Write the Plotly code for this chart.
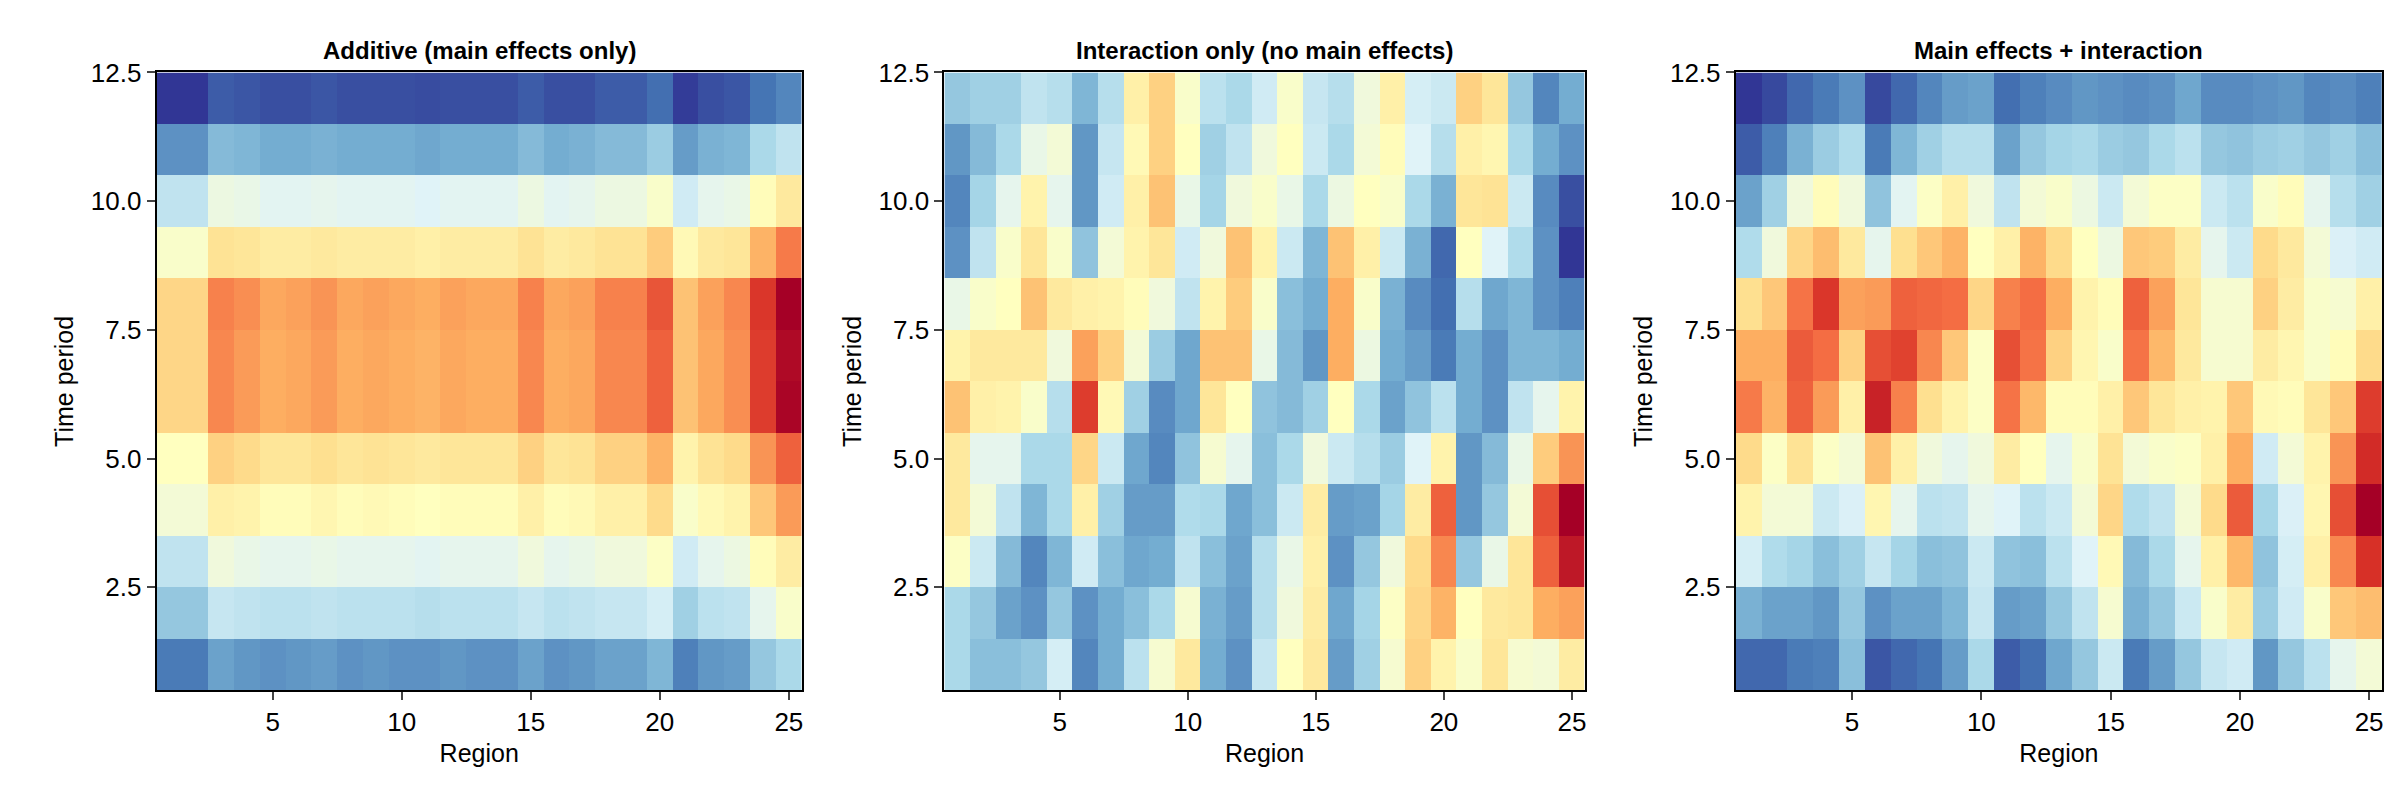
"""Three heatmaps: additive, interaction-only, and combined region x time effects"""
import plotly.graph_objects as go

regions = list(range(1, 26))
periods = list(range(1, 13))

# rows listed from top (period 12) down to period 1
additive_rows = [
    [0.0, 0.0, 0.6, 0.5, 0.4, 0.4, 0.5, 0.4, 0.4, 0.4, 0.35, 0.4, 0.4, 0.4, 0.6, 0.4, 0.4, 0.6, 0.6, 0.9, 0.1, 0.4, 0.5, 1.0, 1.3],
    [1.5, 1.5, 2.3, 2.2, 2.0, 2.0, 2.1, 2.0, 2.0, 2.0, 1.9, 2.0, 2.0, 2.0, 2.3, 2.0, 2.1, 2.3, 2.3, 2.7, 1.7, 2.1, 2.2, 3.0, 3.4],
    [3.4, 3.4, 4.4, 4.3, 4.1, 4.1, 4.2, 4.1, 4.1, 4.1, 4.0, 4.1, 4.1, 4.1, 4.4, 4.1, 4.2, 4.4, 4.4, 4.8, 3.7, 4.2, 4.3, 5.1, 5.7],
    [4.8, 4.8, 5.9, 5.8, 5.6, 5.6, 5.7, 5.6, 5.6, 5.6, 5.5, 5.6, 5.6, 5.6, 5.9, 5.6, 5.7, 5.9, 5.9, 6.4, 5.2, 5.7, 5.8, 6.9, 7.8],
    [6.2, 6.2, 7.7, 7.5, 7.1, 7.2, 7.4, 7.1, 7.2, 7.1, 7.0, 7.2, 7.1, 7.1, 7.7, 7.1, 7.2, 7.7, 7.7, 8.4, 6.6, 7.2, 7.6, 8.9, 10.0],
    [6.2, 6.2, 7.6, 7.3, 7.0, 7.1, 7.3, 7.0, 7.1, 7.0, 6.9, 7.1, 7.0, 7.0, 7.6, 7.0, 7.1, 7.6, 7.6, 8.2, 6.6, 7.1, 7.5, 8.8, 9.8],
    [6.2, 6.2, 7.6, 7.3, 7.0, 7.1, 7.3, 7.0, 7.1, 7.0, 6.9, 7.1, 7.0, 7.0, 7.6, 7.0, 7.1, 7.6, 7.6, 8.2, 6.6, 7.1, 7.5, 8.8, 9.9],
    [5.0, 5.0, 6.3, 6.1, 5.8, 5.8, 6.0, 5.8, 5.9, 5.8, 5.7, 5.8, 5.8, 5.8, 6.3, 5.8, 5.9, 6.3, 6.3, 6.9, 5.4, 5.9, 6.1, 7.4, 8.2],
    [4.6, 4.6, 5.5, 5.4, 5.1, 5.1, 5.3, 5.1, 5.2, 5.1, 5.0, 5.1, 5.1, 5.1, 5.5, 5.1, 5.2, 5.5, 5.5, 6.1, 4.8, 5.2, 5.4, 6.5, 7.3],
    [3.4, 3.4, 4.5, 4.3, 4.2, 4.2, 4.3, 4.2, 4.2, 4.2, 4.1, 4.2, 4.2, 4.2, 4.5, 4.2, 4.3, 4.5, 4.5, 4.9, 3.7, 4.2, 4.4, 5.1, 5.6],
    [2.6, 2.6, 3.5, 3.4, 3.3, 3.3, 3.4, 3.3, 3.3, 3.3, 3.2, 3.3, 3.3, 3.3, 3.5, 3.3, 3.4, 3.5, 3.5, 3.8, 2.8, 3.3, 3.4, 4.2, 4.8],
    [1.1, 1.1, 1.8, 1.6, 1.5, 1.6, 1.7, 1.5, 1.6, 1.5, 1.5, 1.6, 1.5, 1.5, 1.8, 1.5, 1.6, 1.8, 1.8, 2.2, 1.2, 1.6, 1.7, 2.6, 3.0],
]

# interaction panel, listed by region (column), periods 12 -> 1
interaction_cols = [
    [2.6, 1.6, 1.3, 1.5, 4.3, 5.4, 6.6, 5.7, 5.7, 4.9, 3.0, 3.0],
    [2.8, 2.3, 2.9, 3.4, 4.8, 5.7, 5.5, 4.2, 4.6, 3.6, 2.6, 2.4],
    [2.8, 3.0, 4.2, 4.8, 5.0, 5.7, 5.4, 4.2, 3.4, 2.3, 1.8, 2.4],
    [3.4, 4.3, 5.4, 5.8, 6.6, 5.7, 4.8, 3.0, 2.2, 1.3, 1.5, 2.6],
    [3.2, 4.6, 4.2, 4.8, 5.7, 4.5, 3.2, 3.0, 3.0, 2.2, 2.6, 3.8],
    [2.2, 1.6, 1.6, 2.5, 5.5, 7.2, 8.8, 6.2, 5.5, 3.7, 1.5, 1.3],
    [3.2, 3.5, 3.7, 4.6, 5.4, 6.3, 5.2, 3.6, 2.8, 2.4, 2.0, 2.0],
    [5.5, 5.2, 5.5, 5.4, 5.1, 4.6, 2.8, 1.9, 1.7, 1.9, 2.4, 3.3],
    [6.3, 6.3, 6.6, 5.8, 4.5, 2.7, 1.4, 1.3, 1.7, 2.0, 3.0, 4.7],
    [4.8, 5.0, 4.3, 3.7, 3.4, 1.9, 1.9, 2.5, 3.1, 3.4, 4.7, 5.7],
    [3.3, 2.8, 2.9, 4.5, 5.4, 6.6, 5.8, 4.7, 3.0, 2.4, 2.1, 2.0],
    [3.0, 3.4, 4.5, 6.6, 6.4, 6.6, 5.0, 4.2, 1.9, 1.8, 1.7, 1.5],
    [3.7, 4.5, 4.8, 5.4, 4.8, 4.3, 2.5, 2.4, 2.4, 3.2, 3.2, 3.5],
    [4.8, 5.0, 4.3, 3.6, 2.4, 2.3, 2.3, 3.0, 3.6, 4.3, 4.5, 5.0],
    [3.5, 3.6, 3.0, 2.2, 2.0, 1.6, 2.8, 4.5, 5.6, 5.5, 5.6, 5.7],
    [3.2, 3.0, 4.4, 6.6, 7.0, 7.0, 5.0, 3.6, 1.7, 1.5, 1.9, 1.7],
    [4.5, 4.6, 5.0, 5.5, 4.8, 4.4, 3.0, 3.2, 1.8, 2.6, 2.9, 2.8],
    [5.5, 5.1, 4.8, 3.6, 2.1, 2.0, 1.8, 2.7, 2.9, 4.5, 4.9, 4.7],
    [3.8, 4.0, 3.0, 2.1, 1.4, 1.7, 2.5, 4.0, 5.6, 6.1, 6.2, 6.3],
    [3.6, 3.2, 2.1, 0.8, 0.9, 1.1, 3.3, 5.4, 8.2, 7.6, 6.9, 5.4],
    [6.3, 5.5, 5.8, 5.0, 3.2, 2.0, 2.0, 1.6, 1.6, 2.6, 5.0, 4.8],
    [5.8, 5.3, 5.9, 4.0, 1.9, 1.5, 1.5, 2.3, 2.6, 4.3, 5.7, 5.8],
    [2.6, 3.0, 3.6, 3.1, 2.2, 2.2, 3.4, 4.3, 4.6, 5.8, 5.8, 4.7],
    [1.3, 2.0, 1.4, 1.5, 1.5, 2.2, 4.2, 6.4, 8.5, 8.2, 7.0, 4.6],
    [2.0, 1.5, 0.4, 0.0, 1.2, 2.0, 5.4, 7.4, 10.0, 9.5, 7.2, 5.6],
]

# combined panel, rows from period 12 down to period 1
combined_rows = [
    [0.0, 0.3, 0.8, 1.1, 1.5, 0.3, 0.8, 1.3, 1.7, 1.8, 0.9, 1.2, 1.4, 1.6, 1.5, 1.4, 1.5, 1.9, 1.4, 1.4, 1.5, 1.6, 1.3, 1.4, 1.2],
    [0.6, 1.2, 2.1, 2.7, 3.1, 1.1, 2.2, 2.8, 3.2, 3.2, 1.8, 2.6, 2.9, 3.0, 2.7, 2.6, 3.0, 3.3, 2.6, 2.5, 2.7, 2.8, 2.6, 2.8, 2.4],
    [1.8, 2.8, 4.5, 5.1, 4.5, 2.5, 4.1, 4.9, 5.5, 4.5, 3.4, 4.6, 4.8, 4.4, 3.6, 4.6, 4.9, 4.9, 3.6, 3.3, 4.8, 5.1, 4.2, 3.2, 2.8],
    [3.1, 4.5, 6.2, 6.7, 5.7, 4.2, 6.0, 6.5, 6.9, 5.0, 5.5, 6.9, 6.1, 5.0, 4.4, 6.5, 6.4, 5.6, 4.2, 3.6, 6.1, 5.7, 4.6, 3.9, 3.7],
    [6.0, 6.5, 7.9, 8.9, 7.2, 7.3, 8.2, 8.1, 8.0, 6.2, 7.7, 8.0, 7.0, 5.4, 5.1, 8.2, 7.2, 5.8, 4.7, 4.7, 6.3, 5.6, 4.8, 4.7, 5.5],
    [7.0, 7.0, 8.3, 8.0, 6.3, 8.5, 8.7, 7.6, 6.5, 4.9, 8.5, 7.9, 6.3, 5.3, 4.8, 7.9, 6.8, 5.7, 4.7, 4.7, 5.6, 5.3, 4.8, 5.1, 6.1],
    [7.8, 6.9, 8.2, 7.3, 5.5, 9.3, 7.7, 6.0, 5.4, 4.9, 7.9, 6.8, 5.1, 5.1, 5.5, 6.5, 5.8, 5.5, 5.4, 6.5, 5.2, 5.1, 5.8, 6.5, 8.8],
    [6.1, 4.9, 5.9, 4.9, 4.6, 6.6, 5.5, 4.5, 4.2, 4.5, 5.6, 5.0, 4.2, 4.8, 5.9, 4.6, 4.8, 4.9, 5.5, 7.0, 3.7, 4.6, 5.4, 7.4, 9.1],
    [5.4, 4.6, 4.6, 3.6, 3.9, 5.3, 4.2, 3.3, 3.4, 4.2, 4.0, 3.3, 3.6, 4.6, 6.2, 3.1, 3.4, 4.6, 6.1, 8.3, 2.9, 3.9, 5.3, 8.5, 10.0],
    [3.8, 3.1, 2.9, 2.4, 2.8, 3.5, 2.9, 2.4, 2.5, 3.6, 2.5, 2.4, 3.3, 4.0, 5.2, 2.3, 3.0, 4.2, 5.5, 6.8, 2.5, 3.8, 5.5, 7.6, 9.0],
    [2.1, 1.8, 1.8, 1.6, 2.6, 1.5, 1.8, 1.8, 2.2, 3.5, 1.7, 1.8, 2.6, 3.4, 4.7, 2.1, 2.6, 3.6, 4.8, 5.6, 2.7, 3.7, 4.8, 6.5, 6.7],
    [0.8, 0.8, 1.1, 1.2, 2.4, 0.5, 0.8, 1.0, 1.7, 3.0, 0.6, 0.9, 1.9, 2.6, 3.6, 1.1, 1.7, 2.6, 3.5, 3.7, 1.6, 2.6, 3.3, 4.2, 4.6],
]

titles = ["Additive (main effects only)", "Interaction only (no main effects)", "Main effects + interaction"]

# put everything in bottom-to-top order for the heatmap
additive = additive_rows[::-1]
interaction = [list(r) for r in zip(*interaction_cols)][::-1]
combined = combined_rows[::-1]

FONT = "Liberation Sans, Arial, sans-serif"
x_domains = [(0.062, 0.331), (0.3905, 0.6575), (0.7205, 0.990)]
y_domain = (0.15, 0.937)

fig = go.Figure()
for i, z in enumerate([additive, interaction, combined]):
    n = "" if i == 0 else str(i + 1)
    fig.add_trace(go.Heatmap(
        x=regions, y=periods, z=z,
        colorscale="RdYlBu", reversescale=True, zmin=0, zmax=10,
        showscale=False, xaxis="x" + n, yaxis="y" + n,
    ))
    axis_common = dict(showline=True, linecolor="black", linewidth=2, mirror=True,
                       ticks="outside", ticklen=8, tickwidth=1.5, showgrid=False, zeroline=False,
                       tickfont=dict(size=26, color="black", family=FONT))
    fig.layout["xaxis" + n] = dict(domain=x_domains[i], range=[0.5, 25.5], tickvals=[5, 10, 15, 20, 25],
                                   title=dict(text="Region", font=dict(size=25, family=FONT, color="black"), standoff=8),
                                   anchor="y" + n, **axis_common)
    fig.layout["yaxis" + n] = dict(domain=y_domain, range=[0.5, 12.5], tickvals=[2.5, 5, 7.5, 10, 12.5],
                                   tickformat=".1f",
                                   title=dict(text="Time period", font=dict(size=25, family=FONT, color="black"), standoff=10),
                                   anchor="x" + n, **axis_common)
    fig.add_annotation(text="<b>" + titles[i] + "</b>", xref="paper", yref="paper",
                       x=sum(x_domains[i]) / 2, y=0.945, xanchor="center", yanchor="bottom",
                       showarrow=False, font=dict(size=24, family=FONT, color="black"))

fig.update_layout(width=2400, height=800, margin=dict(l=0, r=0, t=0, b=0),
                  plot_bgcolor="white", paper_bgcolor="white")

fig.write_html("out.html")
